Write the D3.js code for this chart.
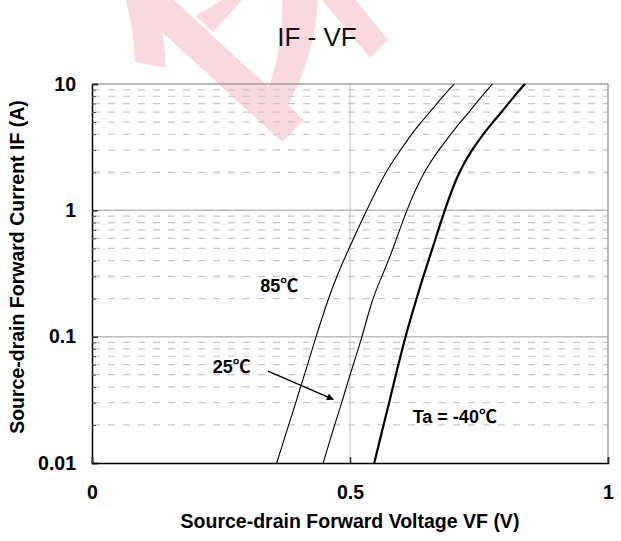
<!DOCTYPE html>
<html>
<head>
<meta charset="utf-8">
<script src="https://cdn.jsdelivr.net/npm/d3@7"></script>
<style>
  html, body { margin: 0; padding: 0; background: #fff; }
  svg { display: block; }
  text { font-family: "Liberation Sans", Arial, "Noto Sans CJK JP", sans-serif; }
</style>
</head>
<body>
<svg id="chart" width="621" height="541"></svg>
<script>
// Forward current levels (A) at which the forward voltage was read
const currents = [0.01, 0.02, 0.03, 0.04, 0.05, 0.1, 0.2, 0.3, 0.5, 1, 2, 3, 4, 5, 6, 8, 10];

// Source-drain forward voltage (V) per ambient temperature
const vf85  = [0.358, 0.381, 0.395, 0.404, 0.412, 0.434, 0.458, 0.474, 0.498, 0.532, 0.568, 0.598, 0.619, 0.638, 0.655, 0.680, 0.702];
const vf25  = [0.448, 0.470, 0.484, 0.493, 0.500, 0.524, 0.543, 0.562, 0.584, 0.609, 0.642, 0.672, 0.695, 0.714, 0.731, 0.755, 0.776];
const vfM40 = [0.547, 0.565, 0.576, 0.583, 0.589, 0.607, 0.629, 0.642, 0.660, 0.683, 0.710, 0.736, 0.758, 0.777, 0.794, 0.818, 0.839];

const seriesNames = ["85℃", "25℃", "Ta = -40℃"];

// Axis ticks
const xTicks = [0, 0.5, 1];
const xTickLabels = ["0", "0.5", "1"];
const yTicks = [0.01, 0.1, 1, 10];
const yTickLabels = ["0.01", "0.1", "1", "10"];

const title = "IF - VF";
const xTitle = "Source-drain Forward Voltage VF (V)";
const yTitle = "Source-drain Forward Current IF (A)";

const svg = d3.select("#chart");
const plot = { left: 92, right: 608, top: 84, bottom: 463 };
const boldSize = 19.5;

const x = d3.scaleLinear().domain([0, 1]).range([plot.left, plot.right]);
const y = d3.scaleLog().domain([0.01, 10]).range([plot.bottom, plot.top]);

// Background watermark logo (pale pink)
const wm = svg.append("g").attr("fill", "#fad8df");
wm.append("path").attr("d", "M126,0 C131,20 134,40 135,62 L166,68 C165,55 164,42 162,32 L282,142 L304,120 L174,0 Z");
wm.append("path").attr("d", "M196,16 L213,32 L242,0 L222,0 Z");
wm.append("path").attr("d", "M282,0 L318,0 C316,40 304,78 284,112 L262,104 C276,72 284,36 282,0 Z");
wm.append("path").attr("d", "M322,0 L356,0 L388,40 L370,58 Z");

// Minor gridlines (dashed) for 2..9 within each decade
const minors = [];
[0.01, 0.1, 1].forEach(d => { for (let k = 2; k <= 9; k++) minors.push(d * k); });

const grid = svg.append("g");
grid.selectAll("line.minor").data(minors).join("line")
  .attr("class", "minor")
  .attr("x1", plot.left + 1).attr("x2", plot.right)
  .attr("y1", d => y(d)).attr("y2", d => y(d))
  .attr("stroke", "#c6c6c6").attr("stroke-width", 1.2)
  .attr("stroke-dasharray", "7,8");

grid.selectAll("line.major").data([0.1, 1]).join("line")
  .attr("class", "major")
  .attr("x1", plot.left).attr("x2", plot.right)
  .attr("y1", d => y(d)).attr("y2", d => y(d))
  .attr("stroke", "#c0c0c0").attr("stroke-width", 1.5);

grid.append("line")
  .attr("x1", x(0.5)).attr("x2", x(0.5))
  .attr("y1", plot.top).attr("y2", plot.bottom)
  .attr("stroke", "#c0c0c0").attr("stroke-width", 1);

// Top and right frame
svg.append("line").attr("x1", plot.left).attr("x2", plot.right)
  .attr("y1", plot.top).attr("y2", plot.top)
  .attr("stroke", "#a0a0a0").attr("stroke-width", 1.5);
svg.append("line").attr("x1", plot.right).attr("x2", plot.right)
  .attr("y1", plot.top).attr("y2", plot.bottom)
  .attr("stroke", "#a0a0a0").attr("stroke-width", 1.5);

// Curves (B-spline smoothing through the measured points)
const line = d3.line()
  .x(d => x(d[0]))
  .y(d => y(d[1]))
  .curve(d3.curveBasis);

const series = [
  { name: seriesNames[0], v: vf85, w: 1.1 },
  { name: seriesNames[1], v: vf25, w: 1.1 },
  { name: seriesNames[2], v: vfM40, w: 2.2 }
];
svg.append("g").selectAll("path").data(series).join("path")
  .attr("d", s => line(s.v.map((v, i) => [v, currents[i]])))
  .attr("fill", "none").attr("stroke", "#000")
  .attr("stroke-width", s => s.w);

// Axes
const yAxis = d3.axisLeft(y)
  .tickValues(yTicks)
  .tickFormat((d, i) => yTickLabels[i])
  .tickSize(-6).tickPadding(16);
const gy = svg.append("g").attr("transform", `translate(${plot.left},0)`).call(yAxis);
gy.select(".domain").attr("stroke", "#000").attr("stroke-width", 1.5);
gy.selectAll(".tick line").attr("stroke", "#333").attr("stroke-width", 1.5);
gy.selectAll(".tick text").attr("font-size", boldSize).attr("font-weight", "bold")
  .attr("font-family", "Liberation Sans, Arial, sans-serif").attr("fill", "#000");

const yMinorAxis = d3.axisLeft(y).tickValues(minors).tickFormat("").tickSize(-4);
const gym = svg.append("g").attr("transform", `translate(${plot.left},0)`).call(yMinorAxis);
gym.select(".domain").remove();
gym.selectAll(".tick line").attr("stroke", "#555").attr("stroke-width", 1);

const xAxis = d3.axisBottom(x)
  .tickValues(xTicks)
  .tickFormat((d, i) => xTickLabels[i])
  .tickSize(-6).tickPadding(22);
const gx = svg.append("g").attr("transform", `translate(0,${plot.bottom})`).call(xAxis);
gx.select(".domain").attr("stroke", "#000").attr("stroke-width", 1.5);
gx.selectAll(".tick line").attr("stroke", "#333").attr("stroke-width", 1.5);
gx.selectAll(".tick text").attr("font-size", boldSize).attr("font-weight", "bold")
  .attr("font-family", "Liberation Sans, Arial, sans-serif").attr("fill", "#000");

// Titles
svg.append("text").attr("x", 317).attr("y", 46)
  .attr("text-anchor", "middle").attr("font-size", 26)
  .attr("fill", "#111").text(title);

svg.append("text").attr("x", 350).attr("y", 528)
  .attr("text-anchor", "middle").attr("font-size", boldSize).attr("font-weight", "bold")
  .text(xTitle);

svg.append("text")
  .attr("transform", "translate(24,267) rotate(-90)")
  .attr("text-anchor", "middle").attr("font-size", boldSize).attr("font-weight", "bold")
  .text(yTitle);

// Series annotations, placed in data coordinates
const labels = [
  { text: seriesNames[0], v: 0.326, i: 0.227 },
  { text: seriesNames[1], v: 0.234, i: 0.0515 },
  { text: seriesNames[2], v: 0.6215, i: 0.0207 }
];
svg.append("g").selectAll("text").data(labels).join("text")
  .attr("x", d => x(d.v)).attr("y", d => y(d.i))
  .attr("font-size", 18).attr("font-weight", "bold")
  .text(d => d.text);

// Arrow pointing at the 25℃ curve
svg.append("defs").append("marker")
  .attr("id", "arrow").attr("viewBox", "0 0 10 10")
  .attr("refX", 9).attr("refY", 5)
  .attr("markerWidth", 9).attr("markerHeight", 7)
  .attr("markerUnits", "userSpaceOnUse")
  .attr("orient", "auto")
  .append("path").attr("d", "M0,0 L10,5 L0,10 Z").attr("fill", "#000");

const arrow = { from: [0.341, 0.0534], to: [0.4676, 0.0319] };
svg.append("line")
  .attr("x1", x(arrow.from[0])).attr("y1", y(arrow.from[1]))
  .attr("x2", x(arrow.to[0])).attr("y2", y(arrow.to[1]))
  .attr("stroke", "#000").attr("stroke-width", 1.3)
  .attr("marker-end", "url(#arrow)");
</script>
</body>
</html>
